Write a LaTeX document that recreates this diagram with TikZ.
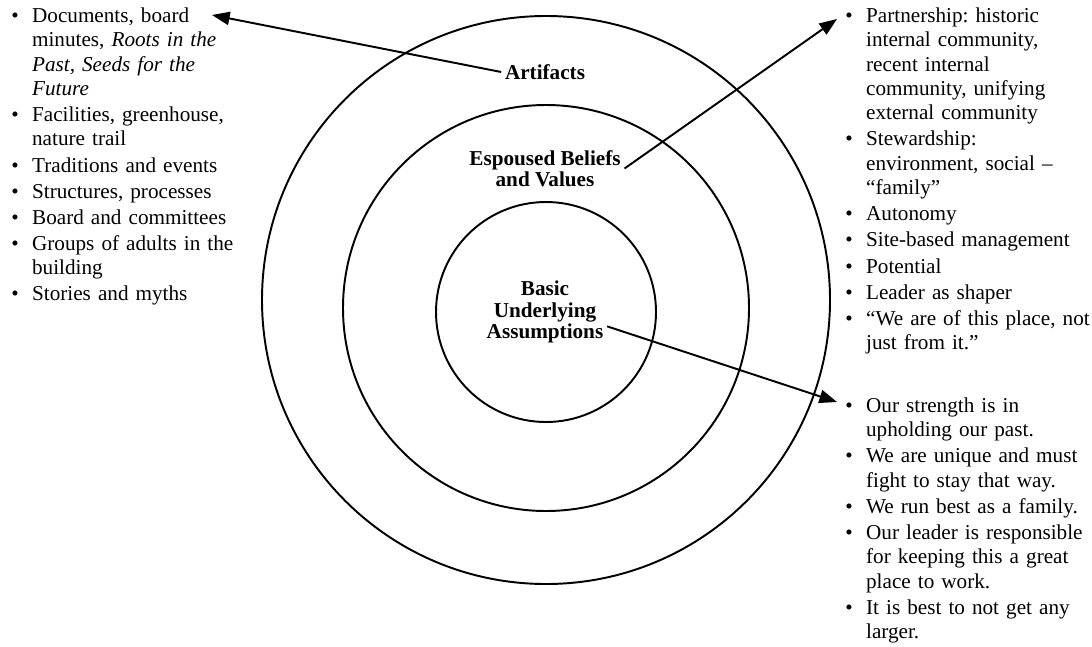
\documentclass[tikz,border=0pt]{standalone}
\usepackage{fontspec}
\setmainfont{Liberation Serif}
\usepackage{enumitem}
\usetikzlibrary{arrows.meta}

\setlist[itemize]{label={\large\textbullet}, leftmargin=18pt, labelsep=7.5pt,
  itemsep=1pt, parsep=0pt, topsep=0pt, partopsep=0pt}

\begin{document}
\begin{tikzpicture}[x=0.5665pt, y=-0.5665pt,
    ring/.style={line width=1.1pt},
    layer/.style={font=\bfseries\fontsize{12}{12.2}\selectfont, align=center, inner sep=2pt},
    bulletlist/.style={anchor=base west, inner sep=0pt, text width=160pt, align=left,
      font=\fontsize{12}{13.8}\selectfont\frenchspacing},
    pointer/.style={line width=1.1pt, -{Triangle[length=10pt, width=7.5pt]}}]
    \useasboundingbox (0,0) rectangle (1092,646);
    % the three layers
    \draw[ring] (546,300) circle [radius=284];
    \draw[ring] (546,308) circle [radius=203];
    \draw[ring] (546,312) circle [radius=110];
    \node[layer] (artifacts) at (545,72) {Artifacts};
    \node[layer] (espoused) at (545,168.5) {Espoused Beliefs\\and Values};
    \node[layer] (basic) at (545,312) {Basic\\Underlying\\Assumptions};
    % the lists
    \node[bulletlist] (artlist) at (0,-2) {\begin{itemize}
        \item Documents, board\\minutes, \textit{Roots in the}\\\textit{Past, Seeds for the}\\\textit{Future}
        \item Facilities, greenhouse,\\nature trail
        \item Traditions and events
        \item Structures, processes
        \item Board and committees
        \item Groups of adults in the\\building
        \item Stories and myths
      \end{itemize}};
    \node[bulletlist] (esplist) at (834,-2) {\begin{itemize}
        \item Partnership: historic\\internal community,\\recent internal\\community, unifying\\external community
        \item Stewardship:\\environment, social –\\“family”
        \item Autonomy
        \item Site-based management
        \item Potential
        \item Leader as shaper
        \item “We are of this place, not\\just from it.”
      \end{itemize}};
    \node[bulletlist] (baslist) at (834,388) {\begin{itemize}
        \item Our strength is in\\upholding our past.
        \item We are unique and must\\fight to stay that way.
        \item We run best as a family.
        \item Our leader is responsible\\for keeping this a great\\place to work.
        \item It is best to not get any\\larger.
      \end{itemize}};
    % arrows
    \coordinate (artTip) at (212,15);
    \coordinate (espTip) at (837,19);
    \coordinate (basTip) at (837,402);
    \draw[pointer] (artifacts.west) -- (artTip);
    \draw[pointer] (espoused.east) -- (espTip);
    \draw[pointer] (basic.-13) -- (basTip);
\end{tikzpicture}
\end{document}
